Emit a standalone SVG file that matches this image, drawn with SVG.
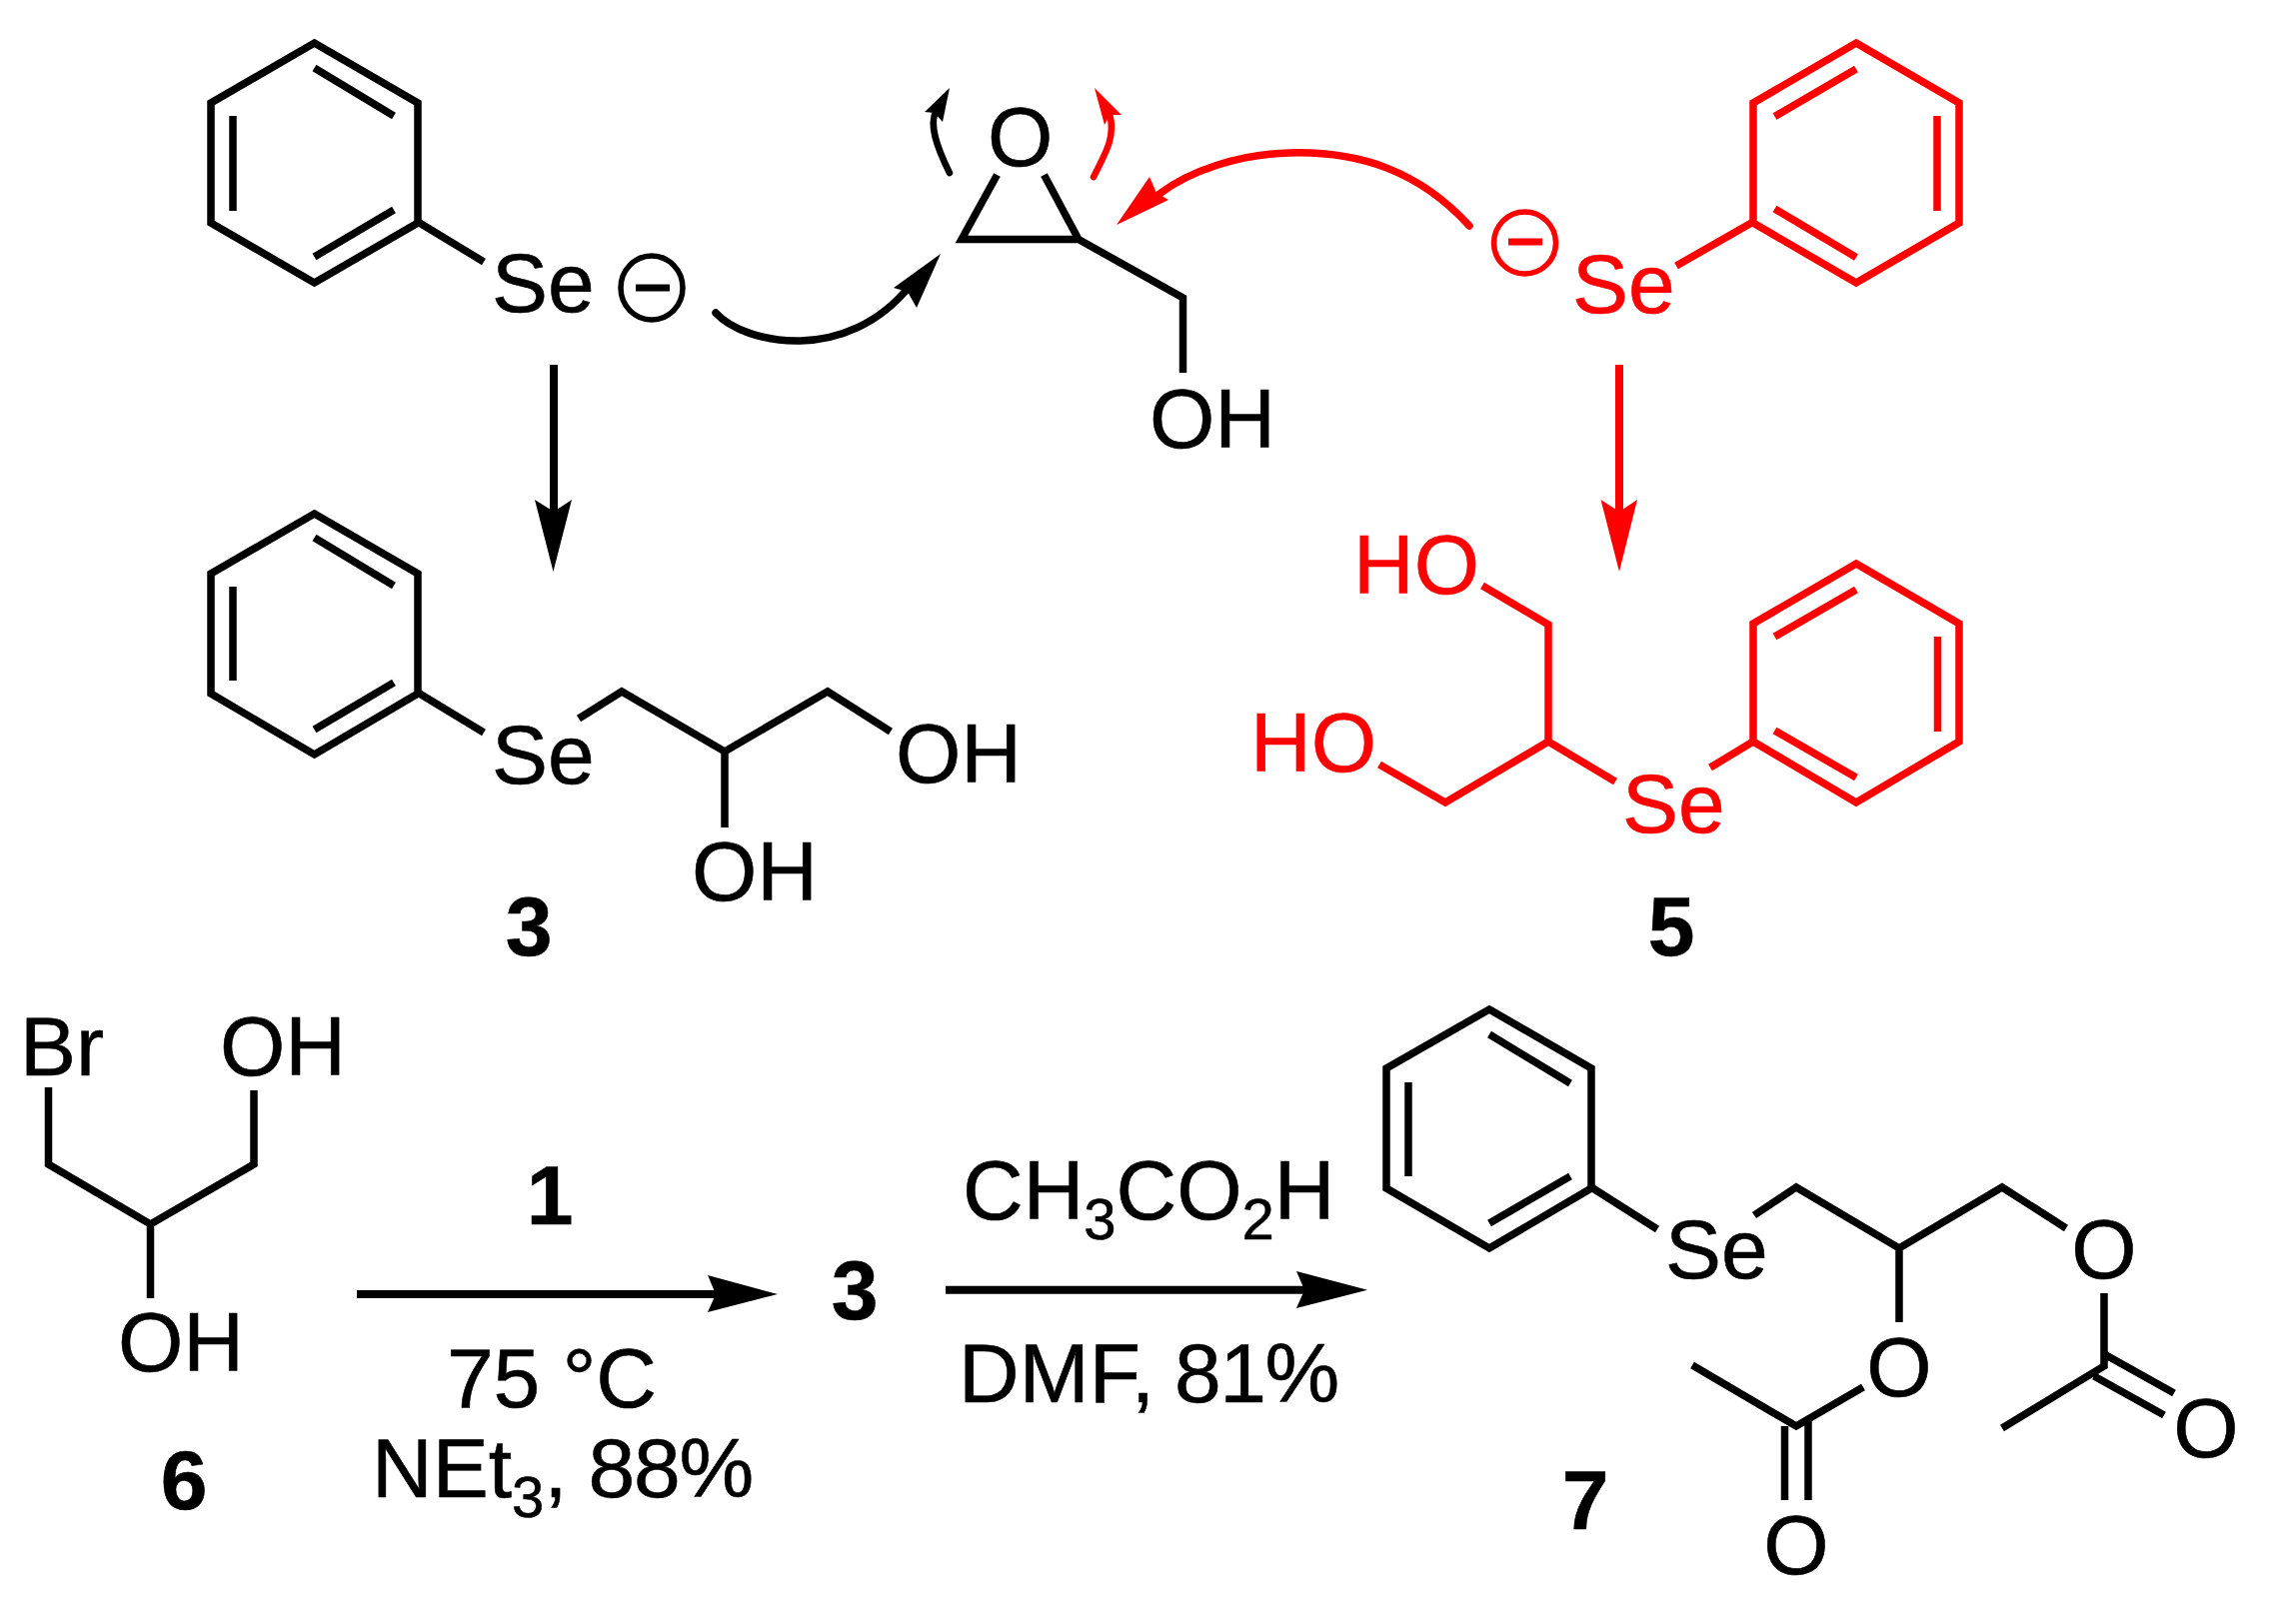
<svg xmlns="http://www.w3.org/2000/svg" width="2270" height="1625" viewBox="0 0 2270 1625">
<style>
text{font-family:"Liberation Sans",Arial,sans-serif;font-size:84px;fill:#000;stroke:#000;stroke-width:.6}
text.r{fill:#f00;stroke:#f00}
text.b{font-weight:bold;text-anchor:middle}
text.m{text-anchor:middle}
tspan.s{font-size:58px}
.k,.rr{fill:none;stroke-width:7.500;stroke-linecap:butt;stroke-linejoin:miter;stroke-miterlimit:10}
.k{stroke:#000}.rr{stroke:#f00}
.ka{fill:none;stroke:#000;stroke-width:8}.ra{fill:none;stroke:#f00;stroke-width:8}
.kc{fill:none;stroke:#000;stroke-width:7.500;stroke-linecap:round}.rc{fill:none;stroke:#f00;stroke-width:7.500;stroke-linecap:round}
.kt{fill:none;stroke:#000;stroke-width:6.500;stroke-linecap:round}.rt{fill:none;stroke:#f00;stroke-width:6.500;stroke-linecap:round}
.kh{fill:#000}.rh{fill:#f00}
.ke{fill:none;stroke:#000;stroke-width:5.500}.re{fill:none;stroke:#f00;stroke-width:5.500}
</style>
<rect width="2270" height="1625" fill="#fff"/>
<g id="connectors">
<path class="ka" d="M554,365V515"/><polygon class="kh" points="553.500,572 535,500 554,512 572,500"/>
<path class="ra" d="M1620,365V515"/><polygon class="rh" points="1620,572 1601.500,500 1620,512 1638,500"/>
<path class="ka" d="M357,1295H725"/><polygon class="kh" points="778,1295 708,1276 716,1295 708,1313"/>
<path class="ka" d="M946,1290.700H1315"/><polygon class="kh" points="1368,1290.700 1297,1272 1305,1290.700 1297,1309"/>
<path class="kc" d="M716,313C745,345 848,365 911,285"/><polygon class="kh" points="941,254 894,288 908,292 917,308"/>
<path class="rc" d="M1470,226C1420,171 1360,151 1290,153C1240,154 1190,171 1160,194"/><polygon class="rh" points="1117,225 1150,177 1157,193 1169,200"/>
<path class="kt" d="M950,173C936,145 930,125 936,112"/><polygon class="kh" points="950,88 925,112 935,113 943,122"/>
<path class="rt" d="M1094,177C1108,150 1116,135 1110,114"/><polygon class="rh" points="1095,88 1122,115 1110,115 1105,125"/>
</g>
<g id="phenylselenide-black">
<polygon class="k" points="314.500,43 418,103 418,223 314.500,283 211,223 211,103"/>
<path class="k" d="M314.500,68L394,116M233,116V211M314.500,257L394,210M418,222L484,262"/>
<text x="492" y="312">Se</text>
<ellipse class="ke" cx="652" cy="288" rx="31" ry="32"/><rect x="636" y="284.500" width="34" height="7"/>
</g>
<g id="epoxide">
<text x="988" y="166">O</text>
<path class="k" d="M997.500,175L962,239.500H1079L1044.500,175M1079,239.500L1183.500,298V373"/>
<text x="1150" y="448">OH</text>
</g>
<g id="phenylselenide-red">
<polygon class="rr" points="1857,43 1960,103 1960,223 1857,283 1754,223 1754,103"/>
<path class="rr" d="M1857,69L1775.500,116.500M1938,116V211M1775.500,209L1857,257.500M1677,266L1754,222"/>
<text class="r" x="1573" y="313">Se</text>
<ellipse class="re" cx="1525.500" cy="243" rx="31" ry="31"/><rect x="1509" y="238.500" width="34" height="7" fill="#f00"/>
</g>
<g id="compound-3">
<polygon class="k" points="314.500,514 418,574 418,694 314.500,755 211,694 211,574"/>
<path class="k" d="M314.500,538L394,586M233,587V681M314.500,730L394,683M418,693L484,733M579,719L622,692L725,752L828,692L891,732M725,752V828"/>
<text x="492" y="784">Se</text>
<text x="896" y="783">OH</text>
<text x="692" y="901">OH</text>
<text class="b" x="529" y="956">3</text>
</g>
<g id="compound-5">
<polygon class="rr" points="1857,564 1960,624 1960,742 1857,803 1754,742 1754,624"/>
<path class="rr" d="M1857,590L1775.500,637M1938.500,637V732M1775.500,731L1857,778M1711,768L1754,742M1483,586L1549,625V742L1446,803L1380,765M1549,742L1616,782"/>
<text class="r" x="1354" y="594">HO</text>
<text class="r" x="1251" y="772">HO</text>
<text class="r" x="1623" y="833">Se</text>
<text class="b" x="1672" y="956">5</text>
</g>
<g id="compound-6">
<path class="k" d="M48.500,1088V1165L150.500,1225L254,1165V1091M150.500,1225V1299"/>
<text x="20" y="1076">Br</text>
<text x="220" y="1076">OH</text>
<text x="118" y="1372">OH</text>
<text class="b" x="184" y="1510">6</text>
</g>
<g id="reaction-labels">
<text class="b" x="550" y="1225">1</text>
<text class="b" x="855" y="1320">3</text>
<text x="447" y="1408" letter-spacing="-.3">75 °C</text>
<text x="372" y="1498">NEt<tspan class="s" dy="20">3</tspan><tspan dy="-20" letter-spacing="-1.200">, 88%</tspan></text>
<text x="963" y="1220">CH<tspan class="s" dy="20">3</tspan><tspan dy="-20">CO</tspan><tspan class="s" dy="20">2</tspan><tspan dy="-20">H</tspan></text>
<text x="959" y="1403">DMF, <tspan x="1175" letter-spacing="-1.500">81%</tspan></text>
</g>
<g id="compound-7">
<polygon class="k" points="1490,1010 1592,1069 1592,1189 1490,1249 1387,1189 1387,1069"/>
<path class="k" d="M1490,1035L1571,1084M1409,1083V1177M1490,1224L1571,1177M1592,1188L1658,1230M1755,1216L1797,1188L1900,1249L2003,1188L2067,1229M1900,1249V1323M1864,1388L1797,1427L1693,1366M1785.500,1427V1501M1809,1420V1501M2105,1294V1367L2003,1429M2107,1356L2175,1394M2095,1377L2165,1416"/>
<text x="1666" y="1279">Se</text>
<text class="m" x="2105" y="1279">O</text>
<text class="m" x="1900" y="1397">O</text>
<text class="m" x="1797" y="1575">O</text>
<text class="m" x="2207" y="1458">O</text>
<text class="b" x="1586" y="1530">7</text>
</g>
</svg>
